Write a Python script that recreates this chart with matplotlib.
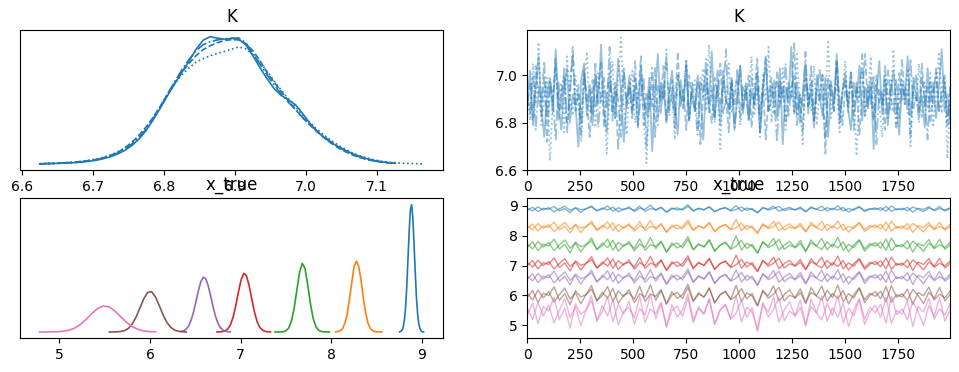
import matplotlib
matplotlib.use('Agg')
import matplotlib.pyplot as plt
import numpy as np

# Posterior de K: densidade (KDE) por cadeia (passo 0.01)
k_kde_lo = 6.625
k_kde_hi = [7.125, 7.125, 7.165, 7.125]
k_kde_0 = [0.03, 0.035, 0.04, 0.05, 0.06, 0.075, 0.10, 0.13, 0.17, 0.23, 0.31, 0.42, 0.56, 0.76,
           1.02, 1.36, 1.79, 2.26, 2.75, 3.22, 3.67, 4.12, 4.59, 4.96, 5.10, 5.04, 5.00, 5.03, 5.00,
           4.78, 4.34, 3.86, 3.42, 3.02, 2.75, 2.58, 2.38, 2.03, 1.65, 1.33, 1.07, 0.87, 0.71, 0.56,
           0.43, 0.32, 0.23, 0.16, 0.11, 0.07, 0.05]
k_kde_1 = [0.02, 0.03, 0.04, 0.05, 0.07, 0.09, 0.12, 0.16, 0.20, 0.27, 0.36, 0.48, 0.66, 0.88,
           1.17, 1.50, 1.89, 2.33, 2.81, 3.25, 3.67, 4.03, 4.34, 4.58, 4.74, 4.86, 4.95, 4.98, 4.97,
           4.82, 4.54, 4.14, 3.67, 3.28, 2.91, 2.54, 2.19, 1.87, 1.58, 1.31, 1.07, 0.85, 0.66, 0.51,
           0.38, 0.28, 0.20, 0.14, 0.10, 0.07, 0.05]
k_kde_2 = [0.03, 0.04, 0.05, 0.06, 0.08, 0.10, 0.13, 0.17, 0.22, 0.29, 0.38, 0.50, 0.66, 0.88,
           1.14, 1.47, 1.86, 2.31, 2.78, 3.22, 3.57, 3.85, 4.08, 4.22, 4.34, 4.43, 4.51, 4.60, 4.69,
           4.62, 4.39, 4.08, 3.72, 3.33, 2.96, 2.62, 2.30, 1.98, 1.68, 1.41, 1.17, 0.96, 0.77, 0.61,
           0.46, 0.35, 0.26, 0.19, 0.13, 0.09, 0.07, 0.05, 0.04, 0.03, 0.02]
k_kde_3 = [0.02, 0.03, 0.04, 0.05, 0.06, 0.08, 0.11, 0.14, 0.19, 0.26, 0.35, 0.46, 0.61, 0.82,
           1.07, 1.42, 1.84, 2.30, 2.81, 3.30, 3.77, 4.18, 4.54, 4.78, 4.90, 4.97, 5.02, 5.04, 5.05,
           4.86, 4.44, 4.00, 3.57, 3.17, 2.81, 2.48, 2.19, 1.87, 1.58, 1.34, 1.12, 0.90, 0.71, 0.55,
           0.41, 0.30, 0.21, 0.15, 0.10, 0.07, 0.05]

# Traços de K (centésimos), quatro cadeias
k_chain0 = [690, 702, 681, 695, 708, 686, 674, 693, 699, 684, 711, 689, 677, 696, 703,
            680, 692, 687, 670, 698, 705, 683, 694, 679, 701, 688, 713, 685, 676, 697,
            691, 682, 707, 694, 672, 689, 700, 686, 695, 678, 704, 690, 683, 699, 668,
            692, 709, 684, 696, 680, 693, 702, 687, 675, 698, 689, 706, 681, 694, 685,
            700, 691, 673, 697, 688, 710, 683, 695, 679, 702, 690, 686, 699, 677, 692,
            704, 684, 696, 681, 693, 688, 701, 676, 694, 707, 685, 690, 698, 682, 703,
            671, 695, 689, 712, 684, 697, 680, 692, 705, 687, 694, 678, 700, 691, 683,
            699, 674, 696, 688, 709, 682, 693, 701, 686, 677, 697, 690, 704, 681, 695,
            687, 699, 669, 692, 706, 684, 698, 679, 693, 702, 688, 675, 696, 690, 708,
            683, 694, 700, 686, 691, 678, 703, 689, 697, 682, 695, 711, 685, 692, 680]
k_chain1 = [686, 697, 679, 704, 691, 683, 699, 672, 695, 688, 707, 681, 693, 700, 676,
            690, 712, 685, 696, 680, 702, 689, 674, 698, 687, 694, 706, 678, 691, 701,
            684, 697, 669, 692, 703, 686, 695, 682, 699, 690, 708, 679, 693, 685, 701,
            674, 696, 689, 704, 681, 692, 698, 683, 710, 687, 694, 677, 700, 691, 685,
            697, 671, 693, 702, 688, 680, 699, 692, 705, 684, 690, 676, 698, 687, 703,
            682, 695, 689, 700, 678, 693, 707, 685, 696, 673, 691, 699, 684, 702, 688,
            695, 680, 697, 690, 714, 683, 692, 676, 699, 687, 704, 681, 694, 689, 701,
            667, 693, 698, 685, 706, 690, 679, 696, 688, 702, 684, 697, 675, 692, 709,
            686, 695, 681, 700, 689, 693, 677, 703, 691, 685, 698, 682, 707, 688, 694,
            674, 699, 690, 684, 705, 687, 696, 680, 693, 701, 685, 690, 697, 678, 692]
k_chain2 = [694, 681, 705, 688, 714, 679, 692, 699, 664, 690, 703, 685, 697, 676, 708,
            691, 683, 700, 687, 672, 695, 710, 684, 693, 678, 701, 689, 696, 667, 692,
            706, 682, 698, 716, 687, 675, 694, 702, 680, 691, 699, 685, 663, 693, 704,
            688, 679, 697, 690, 711, 683, 695, 673, 700, 689, 686, 707, 681, 694, 698,
            677, 692, 703, 685, 713, 690, 682, 696, 669, 699, 688, 705, 684, 693, 700,
            679, 691, 697, 686, 708, 683, 695, 674, 701, 689, 712, 680, 693, 698, 686,
            703, 677, 690, 696, 684, 709, 688, 671, 699, 692, 685, 704, 679, 694, 700,
            687, 715, 682, 691, 697, 676, 693, 706, 684, 698, 689, 666, 695, 702, 683,
            690, 708, 681, 696, 688, 674, 700, 692, 685, 711, 679, 694, 698, 687, 703,
            670, 693, 689, 705, 682, 697, 686, 701, 678, 692, 710, 684, 699, 665, 694]
k_chain3 = [692, 684, 700, 677, 695, 689, 706, 682, 698, 691, 673, 697, 686, 703, 680,
            694, 709, 687, 692, 675, 701, 689, 696, 683, 705, 678, 693, 699, 686, 712,
            681, 695, 690, 674, 702, 688, 697, 684, 706, 679, 691, 699, 670, 694, 687,
            703, 682, 696, 690, 708, 685, 693, 678, 700, 692, 686, 704, 681, 697, 689,
            675, 699, 691, 707, 684, 695, 680, 702, 688, 693, 711, 683, 697, 678, 690,
            704, 686, 694, 681, 699, 687, 701, 676, 693, 708, 685, 696, 689, 672, 698,
            690, 705, 683, 694, 700, 679, 692, 687, 710, 684, 697, 681, 695, 703, 688,
            674, 699, 691, 685, 706, 680, 693, 698, 686, 702, 677, 695, 690, 709, 683,
            696, 688, 700, 671, 694, 687, 704, 682, 698, 691, 678, 701, 689, 695, 684,
            707, 686, 693, 680, 699, 690, 673, 697, 688, 703, 685, 694, 700, 681, 696]

# x_true: faixa de cada densidade e valores lidos (componentes 0 a 6 -> cores C0 a C6)
x_kde_lo = [8.755, 8.05, 7.38, 6.74, 6.343, 5.55, 4.78]
x_kde_hi = [9.02, 8.56, 7.98, 7.33, 6.885, 6.40, 6.06]
x_kde_0 = [0.01, 0.05, 0.15, 0.41, 1.04, 2.19, 4.08, 6.56, 9.09, 10.98, 11.47, 10.37, 8.13, 5.52,
           3.24, 1.66, 0.74, 0.28, 0.09, 0.02, 0.01]
x_kde_1 = [0.01, 0.03, 0.11, 0.30, 0.80, 1.63, 3.05, 4.52, 5.95, 6.38, 5.86, 4.62, 2.97, 1.69,
           0.76, 0.32, 0.10, 0.03, 0.01, 0.0, 0.0]
x_kde_2 = [0.0, 0.0, 0.0, 0.02, 0.10, 0.34, 0.94, 2.08, 3.72, 5.34, 6.18, 5.75, 4.31, 2.60,
           1.26, 0.49, 0.16, 0.04, 0.01, 0.0, 0.0]
x_kde_3 = [0.0, 0.01, 0.03, 0.10, 0.27, 0.64, 1.33, 2.36, 3.60, 4.71, 5.28, 5.07, 4.18, 2.95,
           1.79, 0.93, 0.41, 0.16, 0.05, 0.02, 0.0]
x_kde_4 = [0.04, 0.10, 0.24, 0.52, 1.01, 1.74, 2.67, 3.67, 4.50, 4.93, 4.82, 4.20, 3.28, 2.29,
           1.42, 0.79, 0.39, 0.17, 0.07, 0.02, 0.01]
x_kde_5 = [0.0, 0.0, 0.01, 0.04, 0.13, 0.33, 0.73, 1.37, 2.19, 3.02, 3.57, 3.63, 3.16, 2.36,
           1.52, 0.84, 0.40, 0.16, 0.06, 0.02, 0.0]
x_kde_6 = [0.0, 0.0, 0.01, 0.02, 0.06, 0.15, 0.33, 0.65, 1.11, 1.64, 2.10, 2.34, 2.26, 1.89,
           1.37, 0.87, 0.47, 0.23, 0.09, 0.03, 0.01]

# Traços de x_true (centésimos), duas cadeias por componente
xt0_a = [892, 883, 897, 886, 894, 880, 890, 899, 885, 893, 878, 891, 896, 884, 889, 900, 882, 894, 887, 897,
         881, 892, 888, 903, 884, 895, 879, 890, 893, 886, 898, 883, 891, 887, 896, 880, 889, 894, 885, 901,
         882, 893, 888, 876, 895, 886, 891, 898, 884, 890, 887, 896, 881, 893, 889, 899, 883, 892, 886, 895,
         879, 890, 897, 885, 891, 888, 894, 882, 900, 887, 892, 884, 896, 889, 881, 893, 886, 898, 883, 891]
xt0_b = [886, 895, 881, 892, 889, 898, 884, 891, 877, 894, 887, 890, 900, 883, 893, 886, 896, 880, 889, 892,
         885, 899, 882, 891, 888, 895, 879, 893, 886, 890, 904, 884, 892, 887, 897, 881, 890, 894, 883, 888,
         896, 885, 891, 878, 893, 889, 899, 882, 890, 895, 886, 892, 880, 897, 888, 884, 894, 887, 901, 883,
         891, 886, 896, 881, 889, 893, 885, 898, 882, 890, 887, 895, 879, 892, 888, 897, 884, 891, 886, 894]
xt1_a = [834, 819, 841, 825, 837, 814, 830, 845, 822, 836, 811, 831, 842, 820, 828, 847, 817, 838, 826, 840,
         815, 833, 824, 851, 821, 839, 812, 829, 836, 823, 844, 818, 832, 826, 843, 813, 830, 837, 822, 855,
         817, 835, 827, 808, 840, 824, 831, 846, 819, 829, 825, 842, 814, 836, 828, 848, 818, 833, 823, 839,
         812, 830, 844, 821, 834, 827, 838, 816, 849, 826, 832, 820, 841, 829, 813, 835, 824, 845, 819, 831]
xt1_b = [825, 839, 816, 833, 828, 846, 820, 832, 809, 838, 826, 830, 849, 818, 835, 824, 843, 814, 829, 834,
         822, 847, 817, 831, 827, 840, 812, 836, 823, 830, 853, 819, 834, 825, 844, 815, 829, 838, 820, 827,
         842, 821, 833, 810, 837, 828, 848, 817, 830, 840, 823, 834, 813, 845, 827, 819, 839, 826, 850, 818,
         832, 824, 843, 814, 828, 836, 822, 846, 816, 830, 825, 841, 811, 834, 827, 844, 820, 831, 823, 838]
xt2_a = [773, 756, 781, 762, 777, 750, 769, 786, 758, 775, 746, 770, 783, 755, 767, 789, 752, 778, 764, 781,
         749, 772, 761, 794, 757, 779, 745, 768, 776, 759, 787, 753, 771, 763, 785, 748, 769, 777, 757, 800,
         752, 775, 765, 741, 781, 760, 770, 788, 754, 768, 762, 784, 749, 776, 766, 791, 753, 772, 759, 780,
         746, 769, 786, 756, 774, 765, 779, 751, 792, 763, 771, 755, 782, 767, 747, 775, 760, 788, 754, 770]
xt2_b = [761, 780, 750, 772, 766, 789, 756, 771, 742, 779, 763, 769, 793, 753, 775, 760, 785, 748, 768, 774,
         757, 790, 751, 770, 764, 782, 746, 776, 759, 769, 797, 754, 773, 762, 787, 749, 768, 779, 755, 765,
         784, 757, 772, 743, 778, 766, 791, 752, 769, 781, 759, 774, 747, 786, 765, 754, 780, 762, 795, 751,
         771, 760, 785, 748, 767, 777, 758, 789, 750, 769, 763, 783, 745, 774, 766, 787, 756, 770, 761, 779]
xt3_a = [711, 695, 718, 700, 714, 689, 707, 723, 697, 712, 685, 708, 720, 693, 705, 726, 691, 716, 702, 719,
         688, 710, 699, 731, 694, 717, 684, 706, 713, 697, 724, 690, 709, 701, 722, 687, 707, 714, 696, 735,
         691, 712, 703, 680, 718, 698, 708, 725, 692, 706, 700, 721, 688, 713, 704, 728, 691, 710, 697, 717,
         685, 707, 723, 694, 711, 703, 716, 689, 729, 701, 709, 693, 719, 705, 686, 712, 698, 724, 692, 708]
xt3_b = [700, 717, 689, 710, 704, 726, 694, 709, 682, 716, 701, 707, 730, 691, 712, 698, 722, 687, 706, 711,
         695, 727, 690, 708, 702, 719, 685, 713, 697, 707, 733, 692, 711, 700, 724, 688, 706, 716, 693, 703,
         721, 695, 710, 681, 715, 704, 728, 690, 707, 718, 697, 711, 686, 723, 703, 692, 717, 700, 732, 689,
         709, 698, 722, 687, 705, 714, 696, 726, 688, 707, 701, 720, 684, 712, 704, 724, 694, 708, 699, 716]
xt4_a = [666, 649, 674, 655, 670, 642, 662, 679, 651, 667, 638, 663, 676, 647, 660, 683, 645, 671, 657, 675,
         641, 665, 654, 687, 648, 672, 637, 661, 668, 652, 680, 643, 664, 656, 678, 640, 662, 669, 650, 686,
         645, 667, 658, 635, 674, 653, 663, 681, 646, 661, 655, 677, 642, 668, 659, 684, 646, 665, 652, 673,
         638, 662, 679, 649, 666, 658, 671, 644, 685, 656, 664, 648, 675, 660, 639, 667, 653, 680, 647, 663]
xt4_b = [655, 673, 643, 665, 659, 682, 648, 664, 636, 672, 656, 662, 685, 645, 667, 653, 678, 640, 661, 666,
         650, 683, 644, 663, 657, 675, 639, 669, 652, 662, 689, 646, 666, 655, 680, 641, 661, 671, 648, 658,
         677, 650, 665, 634, 670, 659, 684, 644, 662, 674, 652, 667, 638, 679, 658, 647, 673, 655, 687, 643,
         664, 653, 678, 640, 660, 670, 651, 682, 642, 662, 656, 676, 637, 668, 659, 681, 649, 663, 654, 672]
xt5_a = [607, 585, 618, 592, 613, 578, 603, 625, 588, 609, 572, 604, 621, 583, 600, 630, 580, 615, 596, 620,
         576, 606, 594, 636, 584, 616, 571, 601, 611, 590, 627, 579, 605, 595, 624, 575, 603, 612, 587, 634,
         580, 609, 598, 566, 618, 591, 604, 628, 582, 601, 593, 622, 577, 610, 599, 632, 581, 607, 589, 617,
         572, 603, 626, 586, 608, 597, 614, 579, 633, 594, 606, 584, 620, 600, 573, 611, 590, 627, 582, 604]
xt5_b = [593, 617, 577, 608, 600, 629, 584, 606, 569, 616, 595, 603, 633, 581, 611, 591, 624, 574, 601, 609,
         588, 631, 580, 605, 597, 620, 572, 613, 590, 603, 638, 583, 609, 594, 626, 575, 602, 615, 586, 598,
         623, 589, 607, 565, 614, 599, 632, 582, 603, 619, 591, 610, 573, 627, 598, 585, 617, 593, 635, 579,
         606, 592, 624, 576, 600, 613, 589, 630, 578, 603, 595, 621, 570, 610, 599, 628, 585, 604, 592, 616]
xt6_a = [558, 520, 577, 531, 568, 508, 551, 589, 526, 562, 499, 553, 583, 517, 545, 596, 512, 571, 538, 580,
         505, 556, 535, 604, 522, 573, 497, 548, 565, 529, 592, 509, 557, 540, 587, 503, 552, 567, 524, 600,
         511, 561, 543, 488, 577, 528, 554, 594, 515, 548, 533, 585, 502, 564, 541, 598, 513, 559, 527, 574,
         496, 551, 590, 521, 560, 542, 570, 507, 597, 536, 555, 518, 581, 546, 500, 566, 530, 593, 514, 553]
xt6_b = [534, 575, 506, 563, 549, 594, 519, 557, 491, 572, 537, 552, 599, 512, 566, 531, 586, 501, 547, 560,
         525, 597, 510, 555, 539, 578, 494, 569, 528, 551, 606, 516, 562, 536, 590, 504, 549, 571, 520, 541,
         583, 526, 558, 478, 570, 544, 595, 511, 552, 579, 530, 561, 498, 588, 543, 518, 574, 533, 601, 508,
         557, 532, 587, 503, 546, 568, 527, 593, 507, 550, 538, 582, 496, 564, 545, 591, 521, 556, 535, 573]

n_draws = 2000
draw_ticks = [0, 250, 500, 750, 1000, 1250, 1500, 1750]
k_ticks = [6.6, 6.7, 6.8, 6.9, 7.0, 7.1]
k_trace_ticks = [6.6, 6.8, 7.0]
x_ticks = [5, 6, 7, 8, 9]

colors = ['C0', 'C1', 'C2', 'C3', 'C4', 'C5', 'C6']
chain_styles = ['-', '--', ':', '-.']

fig = plt.figure(figsize=(9.59, 3.72), dpi=100)
ax_k = fig.add_axes([0.0212, 0.5422, 0.4405, 0.3763])
ax_kt = fig.add_axes([0.5498, 0.5422, 0.4411, 0.3763])
ax_x = fig.add_axes([0.0212, 0.0906, 0.4405, 0.3763])
ax_xt = fig.add_axes([0.5498, 0.0906, 0.4411, 0.3763])

##### K: densidades
k_kdes = [k_kde_0, k_kde_1, k_kde_2, k_kde_3]
for c in range(4):
    dens = np.array(k_kdes[c])
    grid = np.linspace(k_kde_lo, k_kde_hi[c], dens.size)
    ax_k.plot(grid, dens, color='C0', ls=chain_styles[c], lw=1.2)
ax_k.set_yticks([])
ax_k.set_xticks(k_ticks)
ax_k.set_title('K')

##### K: traços
k_chains = [k_chain0, k_chain1, k_chain2, k_chain3]
for c in range(4):
    vals = np.array(k_chains[c]) / 100.0
    draws = np.linspace(0, n_draws - 1, vals.size)
    ax_kt.plot(draws, vals, color='C0', ls=chain_styles[c], lw=1.3, alpha=0.45)
ax_kt.set_xlim(0, n_draws - 1)
ax_kt.set_ylim(6.6, 7.19)
ax_kt.set_xticks(draw_ticks)
ax_kt.set_yticks(k_trace_ticks)
ax_kt.set_title('K')

##### x_true: densidades
x_kdes = [x_kde_0, x_kde_1, x_kde_2, x_kde_3, x_kde_4, x_kde_5, x_kde_6]
for i in range(7):
    dens = np.array(x_kdes[i])
    grid = np.linspace(x_kde_lo[i], x_kde_hi[i], dens.size)
    ax_x.plot(grid, dens, color=colors[i], lw=1.2)
ax_x.set_yticks([])
ax_x.set_xticks(x_ticks)
ax_x.set_title('x_true')

##### x_true: traços (linhas cheias, bem densas)
x_traces = [(xt0_a, xt0_b), (xt1_a, xt1_b), (xt2_a, xt2_b), (xt3_a, xt3_b),
            (xt4_a, xt4_b), (xt5_a, xt5_b), (xt6_a, xt6_b)]
for i in range(7):
    for c in range(2):
        vals = np.array(x_traces[i][c]) / 100.0
        draws = np.linspace(0, n_draws - 1, vals.size)
        ax_xt.plot(draws, vals, color=colors[i], ls='-', lw=1.0, alpha=0.55)
ax_xt.set_xlim(0, n_draws - 1)
ax_xt.set_xticks(draw_ticks)
ax_xt.set_yticks(x_ticks)
ax_xt.set_title('x_true')

plt.savefig('out.png', dpi=100)
